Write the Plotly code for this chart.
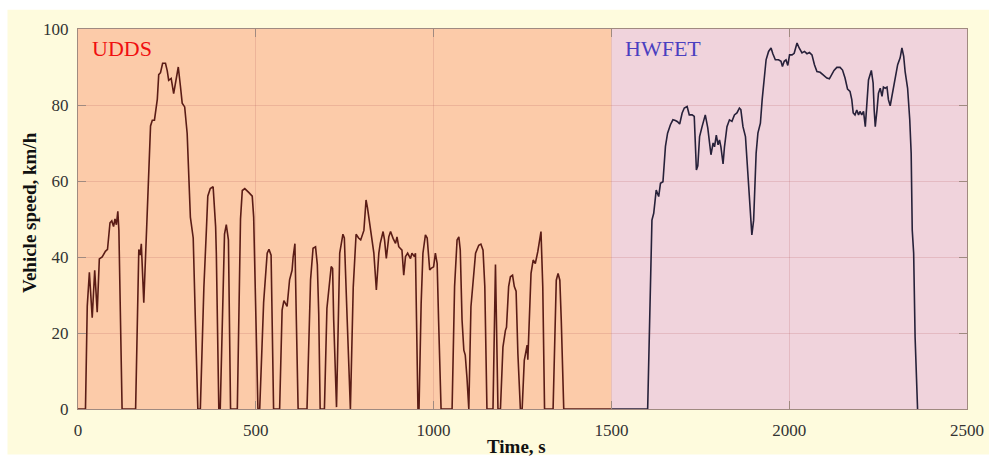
import plotly.graph_objects as go

# ---------------- data ----------------
udds_time = [0, 21, 26, 32, 40, 47, 54, 60, 68, 77, 83, 87, 90, 95, 100, 104, 108, 112, 115, 124,
             162, 171, 175, 178, 185, 194, 199, 204, 209, 215, 223, 227, 232, 238, 246, 251, 255, 262,
             269, 276, 282, 288, 293, 300, 307, 316, 324, 330, 337, 344, 354, 361, 365, 372, 380, 387,
             389, 396, 400, 412, 417, 423, 429, 448, 457, 462, 469, 480, 490, 494, 499, 506, 511, 522,
             532, 537, 543, 550, 567, 574, 579, 588, 595, 602, 605, 610, 614, 619, 644, 654, 661, 668,
             673, 677, 681, 693, 700, 705, 712, 716, 719, 727, 736, 745, 749, 757, 766, 774, 782, 789,
             795, 804, 810, 814, 822, 832, 839, 846, 850, 858, 862, 867, 874, 879, 886, 893, 897, 902,
             911, 916, 921, 927, 935, 939, 946, 949, 952, 956, 959, 965, 970, 977, 982, 989, 993, 1000,
             1005, 1010, 1014, 1021, 1052, 1059, 1066, 1071, 1075, 1080, 1085, 1089, 1094, 1099, 1105,
             1111, 1118, 1127, 1133, 1139, 1144, 1150, 1167, 1174, 1181, 1188, 1195, 1202, 1205, 1211,
             1216, 1222, 1227, 1232, 1237, 1244, 1249, 1255, 1263, 1265, 1269, 1274, 1280, 1286, 1293,
             1298, 1302, 1307, 1312, 1336, 1345, 1350, 1355, 1359, 1366, 1500]
udds_speed = [0, 0, 27, 36, 24, 36.5, 25.5, 39.5, 40, 41.5, 42, 46, 49, 49.5, 48, 50, 48.5, 52, 47, 0,
              0, 42, 40.5, 43.5, 28, 50, 65, 74.5, 76, 76, 81.5, 88, 88.5, 91, 91, 89, 86.5, 87,
              83, 86.5, 90, 85, 80.5, 79.5, 72.5, 50.5, 45, 23.5, 0, 0, 32, 47, 56, 58, 58.5, 48,
              41, 0, 0, 46, 48.5, 44.5, 0, 0, 50, 57.5, 58, 57, 56, 50.5, 28, 0, 0, 28,
              41, 42, 40.5, 0, 0, 26, 28.5, 27, 34, 36.5, 40, 43.5, 23.5, 0, 0, 34, 42.3, 42.7,
              38, 25, 0, 0, 26.5, 32, 37.5, 37, 23.5, 0.5, 41, 46, 45, 23.5, 0, 32, 46, 45,
              44.5, 47, 55, 53, 48, 41, 31.3, 41, 43.6, 46.7, 44.5, 39.6, 45.3, 46.7, 44.9, 43.6, 45.3, 42.7,
              41.8, 35.2, 40.1, 41, 39.6, 41, 40.1, 41, 23.4, 0, 0, 27.8, 41, 45.8, 45, 36.6, 37, 37.4,
              41, 38.3, 23.4, 0, 0, 32.2, 44.5, 45.3, 41.8, 23.4, 15.5, 14.2, 8, 0, 26.9,
              33.9, 41, 43.1, 43.4, 41.8, 32.2, 0, 0, 38, 0, 0, 16.3, 20.7, 21.5, 32.2,
              34.8, 35.2, 32.2, 31, 14.6, 0, 0, 12.8, 16.8, 13, 23.4, 35.7, 39.2, 38.3, 41.4,
              44.5, 46.7, 32.2, 0, 0, 33.9, 35.7, 33.9, 23.4, 0, 0]

hwfet_time = [1500, 1602, 1614, 1619, 1626, 1633, 1638, 1645, 1652, 1658, 1666, 1673, 1680, 1686, 1692,
              1699, 1705, 1713, 1719, 1727, 1733, 1739, 1743, 1748, 1755, 1764, 1771, 1776, 1780, 1786,
              1790, 1795, 1800, 1804, 1808, 1814, 1818, 1825, 1832, 1839, 1846, 1853, 1860, 1864, 1870,
              1877, 1881, 1886, 1891, 1895, 1900, 1902, 1907, 1912, 1919, 1924, 1928, 1935, 1942, 1949,
              1954, 1961, 1970, 1977, 1981, 1986, 1991, 1996, 2001, 2008, 2014, 2022, 2028, 2036, 2043,
              2050, 2057, 2064, 2071, 2078, 2087, 2096, 2106, 2113, 2120, 2126, 2134, 2143, 2150, 2157,
              2164, 2171, 2176, 2180, 2185, 2190, 2195, 2199, 2204, 2209, 2214, 2219, 2223, 2231, 2236,
              2239, 2242, 2247, 2251, 2256, 2261, 2265, 2270, 2275, 2279, 2284, 2289, 2293, 2298, 2305,
              2312, 2317, 2322, 2326, 2333, 2339, 2343, 2346, 2350, 2354, 2361]
hwfet_speed = [0, 0, 49.7, 51.5, 57.6, 55.9, 59.4, 59.8, 69.1, 72.6, 74.8, 76.1, 75.9, 75.6, 75,
               77.9, 79.2, 79.6, 77.4, 77.4, 77, 62.9, 64, 71.7, 74.3, 77.4, 74, 70.8, 66.9, 70,
               69, 72.1, 69.5, 70.8, 69, 64.5, 69, 74.3, 76.1, 75.7, 77.4, 77.9, 79.2, 78.8, 74.3,
               71.7, 66.4, 58.5, 51.5, 45.8, 49.7, 55, 67.3, 72.6, 75.2, 81.4, 85.8, 91.9, 94.1, 95,
               93.5, 91.9, 91.9, 91.5, 90.1, 91.5, 91.9, 90.4, 93.2, 93.2, 93.6, 96.3, 95, 93.7, 94.1,
               93.5, 93.8, 93.2, 90.6, 88.8, 88.6, 88, 87.1, 86.9, 88, 89.1, 89.9, 89.9, 89.2, 87.1,
               84.2, 83.6, 81.4, 77.9, 77.4, 78.7, 77.4, 78.3, 77.4, 78.3, 74.3, 81.4, 86.6, 89.1, 85.8,
               78.7, 74.3, 78.7, 83.1, 84.4, 82.3, 84.7, 84.4, 84.7, 81.4, 79.8, 82.3, 84.2, 87.5, 90.6,
               92.4, 95, 92.8, 88.8, 84.4, 76.1, 67.3, 47.1, 41, 19, 0]

x_ticks = [0, 500, 1000, 1500, 2000, 2500]
y_ticks = [0, 20, 40, 60, 80, 100]
region_labels = ["UDDS", "HWFET"]
region_bounds = [(0, 1500), (1500, 2500)]

# ---------------- styles ----------------
SERIF = "Liberation Serif, Times New Roman, serif"
CREAM = "#FEFBDD"
REGION_FILL = ["#FCCBA9", "#F0D3DC"]
REGION_TEXT = ["#F01010", "#4A3FC0"]
LINE_COL = ["#5A1C16", "#27213A"]
GRID = "rgba(180,90,90,0.20)"
FRAME = "#A08A80"

fig = go.Figure()
fig.add_trace(go.Scatter(x=udds_time, y=udds_speed, mode="lines", cliponaxis=False,
                         line=dict(color=LINE_COL[0], width=1.6), hoverinfo="skip"))
fig.add_trace(go.Scatter(x=hwfet_time, y=hwfet_speed, mode="lines", cliponaxis=False,
                         line=dict(color=LINE_COL[1], width=1.6), hoverinfo="skip"))

shapes = [dict(type="rect", xref="paper", yref="paper", x0=-0.0793, x1=1.03, y0=-0.12, y1=1.0509,
               fillcolor=CREAM, line=dict(width=0), layer="below")]
for (a, b), col in zip(region_bounds, REGION_FILL):
    shapes.append(dict(type="rect", xref="x", yref="paper", x0=a, x1=b, y0=0, y1=1,
                       fillcolor=col, line=dict(width=0), layer="below"))

annotations = []
for (a, b), lab, col in zip(region_bounds, region_labels, REGION_TEXT):
    annotations.append(dict(x=a + 34, y=94.8, xref="x", yref="y", text=lab, showarrow=False,
                            xanchor="left", yanchor="middle",
                            font=dict(family=SERIF, size=22, color=col)))
annotations.append(dict(x=0.4931, y=-0.098, xref="paper", yref="paper", text="<b>Time, s</b>",
                        showarrow=False, xanchor="center", yanchor="middle",
                        font=dict(family=SERIF, size=19, color="#111")))
annotations.append(dict(x=-0.0545, y=0.517, xref="paper", yref="paper",
                        text="<b>Vehicle speed, km/h</b>", textangle=-90, showarrow=False,
                        xanchor="center", yanchor="middle",
                        font=dict(family=SERIF, size=19, color="#111")))

axis_common = dict(showgrid=True, gridcolor=GRID, gridwidth=1, zeroline=False,
                   showline=True, linecolor=FRAME, linewidth=1, mirror="ticks",
                   ticks="inside", ticklen=8, tickcolor=FRAME, tickwidth=1, automargin=False,
                   tickfont=dict(family=SERIF, size=17, color="#333"))

fig.update_layout(
    width=989, height=456, autosize=False,
    margin=dict(l=78, r=22, t=29, b=47, pad=0),
    paper_bgcolor="white", plot_bgcolor=REGION_FILL[0],
    showlegend=False, hovermode=False,
    shapes=shapes, annotations=annotations,
    xaxis=dict(range=[0, 2500], tickvals=x_ticks, ticklabelstandoff=6, **axis_common),
    yaxis=dict(range=[0, 100], tickvals=y_ticks, ticklabelstandoff=5, **axis_common),
)

fig.write_html("out.html")
